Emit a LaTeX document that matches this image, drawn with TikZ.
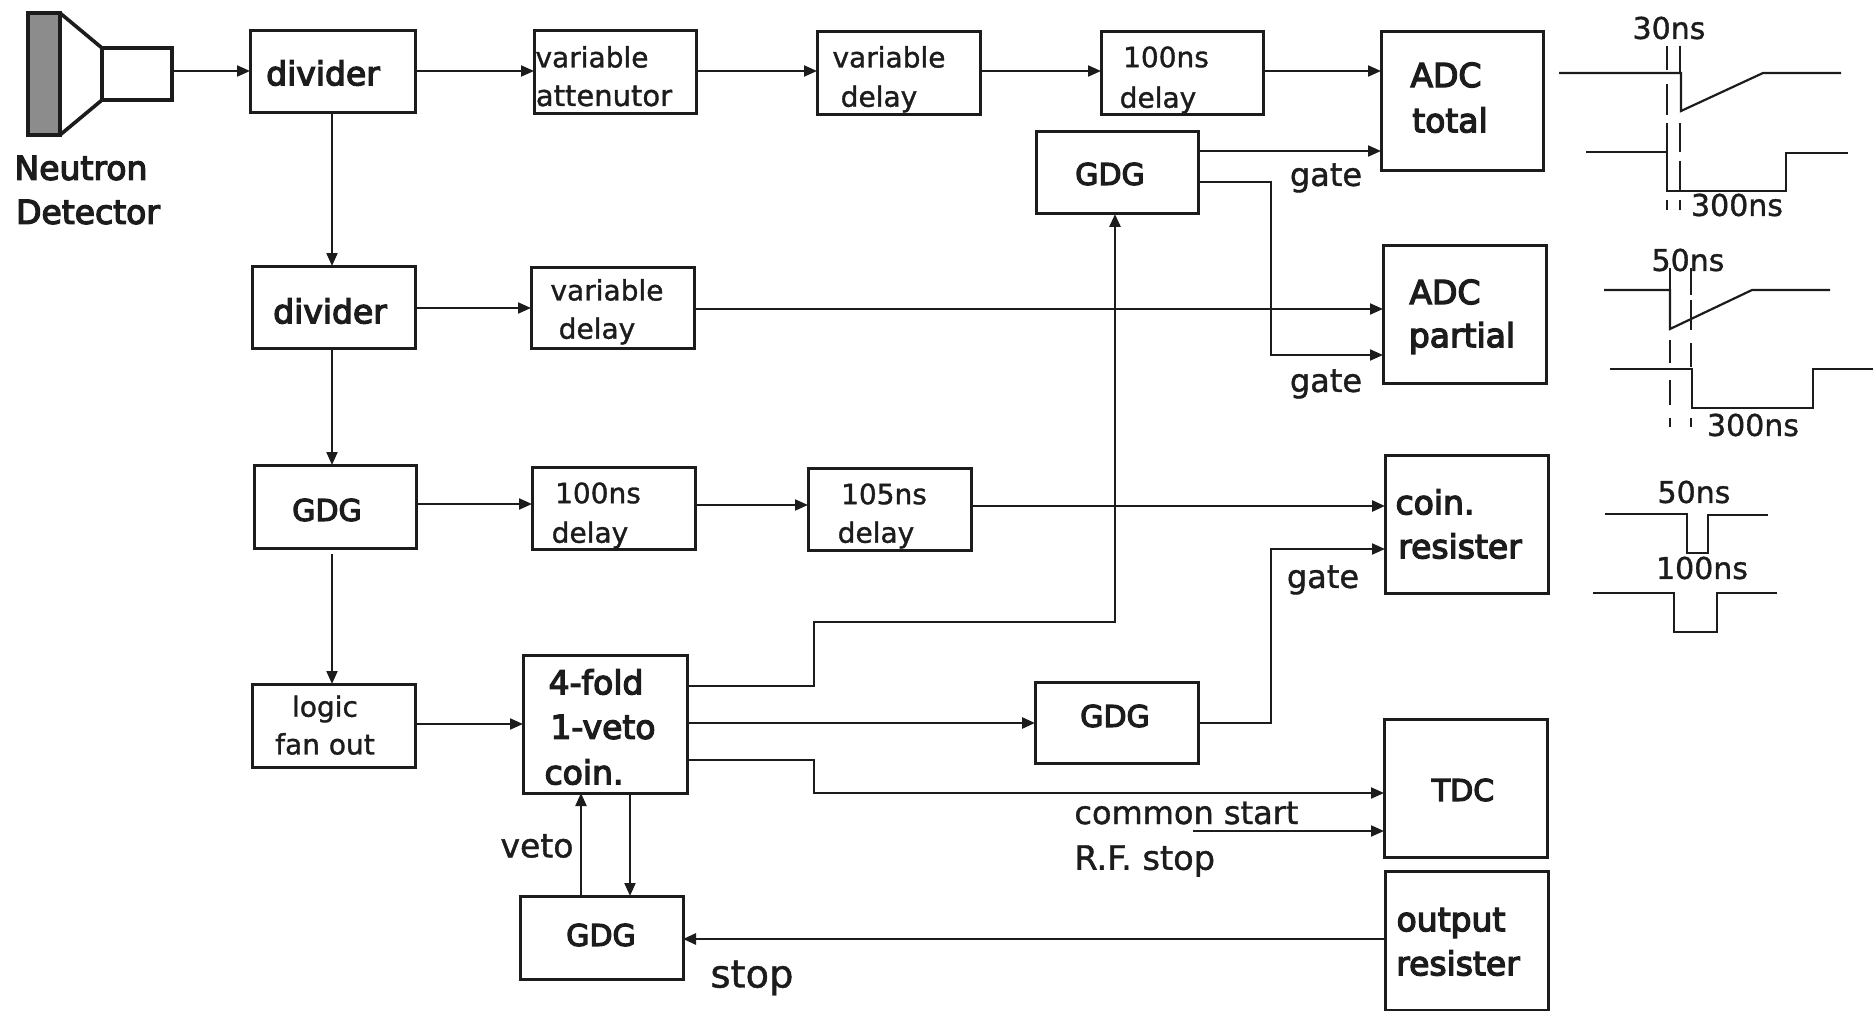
\documentclass[tikz,border=0pt]{standalone}
\usepackage{fontspec}
\setmainfont{DejaVu Sans}
\newfontfamily\heavyfont[FakeBold=4]{DejaVu Sans}
\newfontfamily\plainfont[FakeBold=1.2]{DejaVu Sans}
\usetikzlibrary{arrows.meta}
\definecolor{ink}{HTML}{1C1C1C}
\tikzset{
  x=0.5pt,y=-0.5pt,
  box/.style={draw=ink,line width=1.5pt,inner sep=0pt,outer sep=0pt},
  conn/.style={draw=ink,line width=1.05pt,-{Triangle[length=6.5pt,width=5.5pt]}},
  strongconn/.style={conn,line width=1.4pt},
  wave/.style={draw=ink,line width=1.1pt,line join=miter},
  tick/.style={draw=ink,line width=1pt},
  hb/.style={text=ink,inner sep=0pt,font=\heavyfont\fontsize{#1pt}{#1pt}\selectfont},
  hb/.default=16.5,
  pl/.style={text=ink,inner sep=0pt,font=\plainfont\fontsize{#1pt}{#1pt}\selectfont},
  pl/.default=16
}
% name, x1, y1, x2, y2
\newcommand{\bx}[5]{%
  \pgfmathsetmacro{\bw}{(#4-#2)*0.5}%
  \pgfmathsetmacro{\bh}{(#5-#3)*0.5}%
  \pgfmathsetmacro{\bcx}{(#4+#2)/2}%
  \pgfmathsetmacro{\bcy}{(#5+#3)/2}%
  \node[box,minimum width=\bw pt,minimum height=\bh pt] (#1) at (\bcx,\bcy) {};%
}
\begin{document}
\begin{tikzpicture}
\useasboundingbox (0,0) rectangle (1876,1011);
% detector
\draw[ink,line width=1.8pt,fill=black!45] (28,13) rectangle (60,135);
\draw[ink,line width=1.8pt] (60,13) -- (102,48) -- (102,100) -- (60,135);
\node[box,line width=1.8pt,minimum width=35pt,minimum height=26pt] (det) at (137,74) {};
\node[hb] (detA) at (81,168) {Neutron};
\node[hb] (detB) at (88,212) {Detector};
% boxes
\bx{divA}{250}{31}{415}{113}
\bx{divB}{252}{266}{415}{348}
\bx{att}{534}{31}{696}{114}
\bx{vdA}{817}{32}{980}{115}
\bx{dA}{1101}{32}{1263}{115}
\bx{adcT}{1381}{32}{1543}{171}
\bx{gT}{1036}{132}{1198}{214}
\bx{adcP}{1383}{245}{1546}{383}
\bx{vdB}{531}{267}{694}{348}
\bx{gB}{254}{465}{416}{548}
\bx{dB}{532}{467}{695}{549}
\bx{dC}{808}{468}{971}{550}
\bx{coin}{1385}{455}{1548}{593}
\bx{log}{252}{684}{415}{767}
\bx{four}{523}{655}{687}{793}
\bx{gM}{1035}{682}{1198}{763}
\bx{tdc}{1384}{719}{1547}{857}
\bx{out}{1385}{871}{1548}{1010}
\bx{gL}{520}{896}{683}{979}
% box texts
\node[hb] (t1) at (323,73) {divider};
\node[hb] (t2) at (330,311) {divider};
\node[pl=14] (t3) at (592,57) {variable};
\node[pl=14.5] (t4) at (604,96) {attenutor};
\node[pl=14] (t5) at (889,57) {variable};
\node[pl=14] (t6) at (879,99) {delay};
\node[pl=14] (t7) at (1166,57) {100ns};
\node[pl=14] (t8) at (1158,100) {delay};
\node[hb] (t9) at (1446,75) {ADC};
\node[hb] (t10) at (1450,120) {total};
\node[hb=15] (t11) at (1110,174) {GDG};
\node[hb] (t12) at (1445,292) {ADC};
\node[hb] (t13) at (1462,338) {partial};
\node[pl=14] (t14) at (607,290) {variable};
\node[pl=14] (t15) at (597,331) {delay};
\node[hb=15] (t16) at (327,510) {GDG};
\node[pl=14] (t17) at (598,493) {100ns};
\node[pl=14] (t18) at (590,535) {delay};
\node[pl=14] (t19) at (884,494) {105ns};
\node[pl=14] (t20) at (876,535) {delay};
\node[hb] (t21) at (1435,502) {coin.};
\node[hb] (t22) at (1460,546) {resister};
\node[pl=14] (t23) at (325,709) {logic};
\node[pl=14] (t24) at (325,744) {fan out};
\node[hb] (t25) at (596,682) {4-fold};
\node[hb] (t26) at (603,727) {1-veto};
\node[hb] (t27) at (584,772) {coin.};
\node[hb=15] (t28) at (1115,716) {GDG};
\node[hb=15] (t29) at (1463,790) {TDC};
\node[hb] (t30) at (1451,923) {output};
\node[hb] (t31) at (1458,963) {resister};
\node[hb=15] (t32) at (601,935) {GDG};
% free labels
\node[pl] (g1) at (1326,178) {gate};
\node[pl] (g2) at (1326,384) {gate};
\node[pl] (g3) at (1323,580) {gate};
\node[pl,anchor=west] (cs) at (1074,813) {common start};
\node[pl=16.8,anchor=west] (rf) at (1074,861) {R.F. stop};
\node[pl=16.5] (veto) at (537,846) {veto};
\node[pl=19.2] (stop) at (752,978) {stop};
% connectors
\draw[conn] (det.east |- 0,71) -- (divA.west |- 0,71);
\draw[conn] (divA.east |- 0,71) -- (att.west |- 0,71);
\draw[conn] (att.east |- 0,71) -- (vdA.west |- 0,71);
\draw[conn] (vdA.east |- 0,71) -- (dA.west |- 0,71);
\draw[conn] (dA.east |- 0,71) -- (adcT.west |- 0,71);
\draw[conn] (gT.east |- 0,151) -- (adcT.west |- 0,151);
\draw[conn] (gT.east |- 0,182) -- (1271,182) -- (1271,355) -- (adcP.west |- 0,355);
\draw[conn] (divA.south -| 332,0) -- (divB.north -| 332,0);
\draw[conn] (divB.east |- 0,308) -- (vdB.west |- 0,308);
\draw[conn] (vdB.east |- 0,309) -- (adcP.west |- 0,309);
\draw[conn] (divB.south -| 332,0) -- (gB.north -| 332,0);
\draw[conn] (gB.east |- 0,504) -- (dB.west |- 0,504);
\draw[conn] (dB.east |- 0,505) -- (dC.west |- 0,505);
\draw[strongconn] (dC.east |- 0,506) -- (coin.west |- 0,506);
\draw[conn,shorten <=3pt] (gB.south -| 332,0) -- (log.north -| 332,0);
\draw[conn] (log.east |- 0,724) -- (four.west |- 0,724);
\draw[strongconn] (four.east |- 0,686) -- (814,686) -- (814,622) -- (1115,622) -- (gT.south -| 1115,0);
\draw[strongconn] (four.east |- 0,723) -- (gM.west |- 0,723);
\draw[conn] (gM.east |- 0,723) -- (1271,723) -- (1271,549) -- (coin.west |- 0,549);
\draw[conn] (four.east |- 0,760) -- (814,760) -- (814,793) -- (tdc.west |- 0,793);
\coordinate (rfstart) at (1193,831);
\draw[conn] (rfstart) -- (tdc.west |- rfstart);
\draw[strongconn] (out.west |- 0,939) -- (gL.east |- 0,939);
\draw[conn] (gL.north -| 581,0) -- (four.south -| 581,0);
\draw[conn] (four.south -| 630,0) -- (gL.north -| 630,0);
% waveforms: ADC total
\node[pl=15] (w1) at (1669,28) {30ns};
\draw[wave] (1559,73) -- (1681,73) -- (1681,111) -- (1763,73) -- (1841,73);
\draw[wave] (1586,152) -- (1667,152) -- (1667,191) -- (1786,191) -- (1786,153) -- (1848,153);
\draw[tick] (1667,46) -- (1667,70) (1667,84) -- (1667,115) (1667,123) -- (1667,152) (1667,200) -- (1667,210);
\draw[tick] (1680,46) -- (1680,73) (1680,123) -- (1680,152) (1680,161) -- (1680,191) (1680,200) -- (1680,210);
\node[pl=15] (w2) at (1737,205) {300ns};
% ADC partial
\node[pl=15] (w3) at (1688,260) {50ns};
\draw[wave] (1604,290) -- (1670,290) -- (1670,329) -- (1752,290) -- (1830,290);
\draw[wave] (1610,369) -- (1692,369) -- (1692,408) -- (1813,408) -- (1813,369) -- (1873,369);
\draw[tick] (1670,268) -- (1670,290) (1670,340) -- (1670,363) (1670,380) -- (1670,405) (1670,418) -- (1670,427);
\draw[tick] (1691,268) -- (1691,295) (1691,300) -- (1691,330) (1691,343) -- (1691,367) (1691,418) -- (1691,427);
\node[pl=15] (w4) at (1753,425) {300ns};
% coin
\node[pl=15] (w5) at (1694,492) {50ns};
\draw[wave] (1605,514) -- (1687,514) -- (1687,553) -- (1708,553) -- (1708,515) -- (1768,515);
\node[pl=15] (w6) at (1702,568) {100ns};
\draw[wave] (1593,593) -- (1674,593) -- (1674,632) -- (1717,632) -- (1717,593) -- (1777,593);
\end{tikzpicture}
\end{document}
